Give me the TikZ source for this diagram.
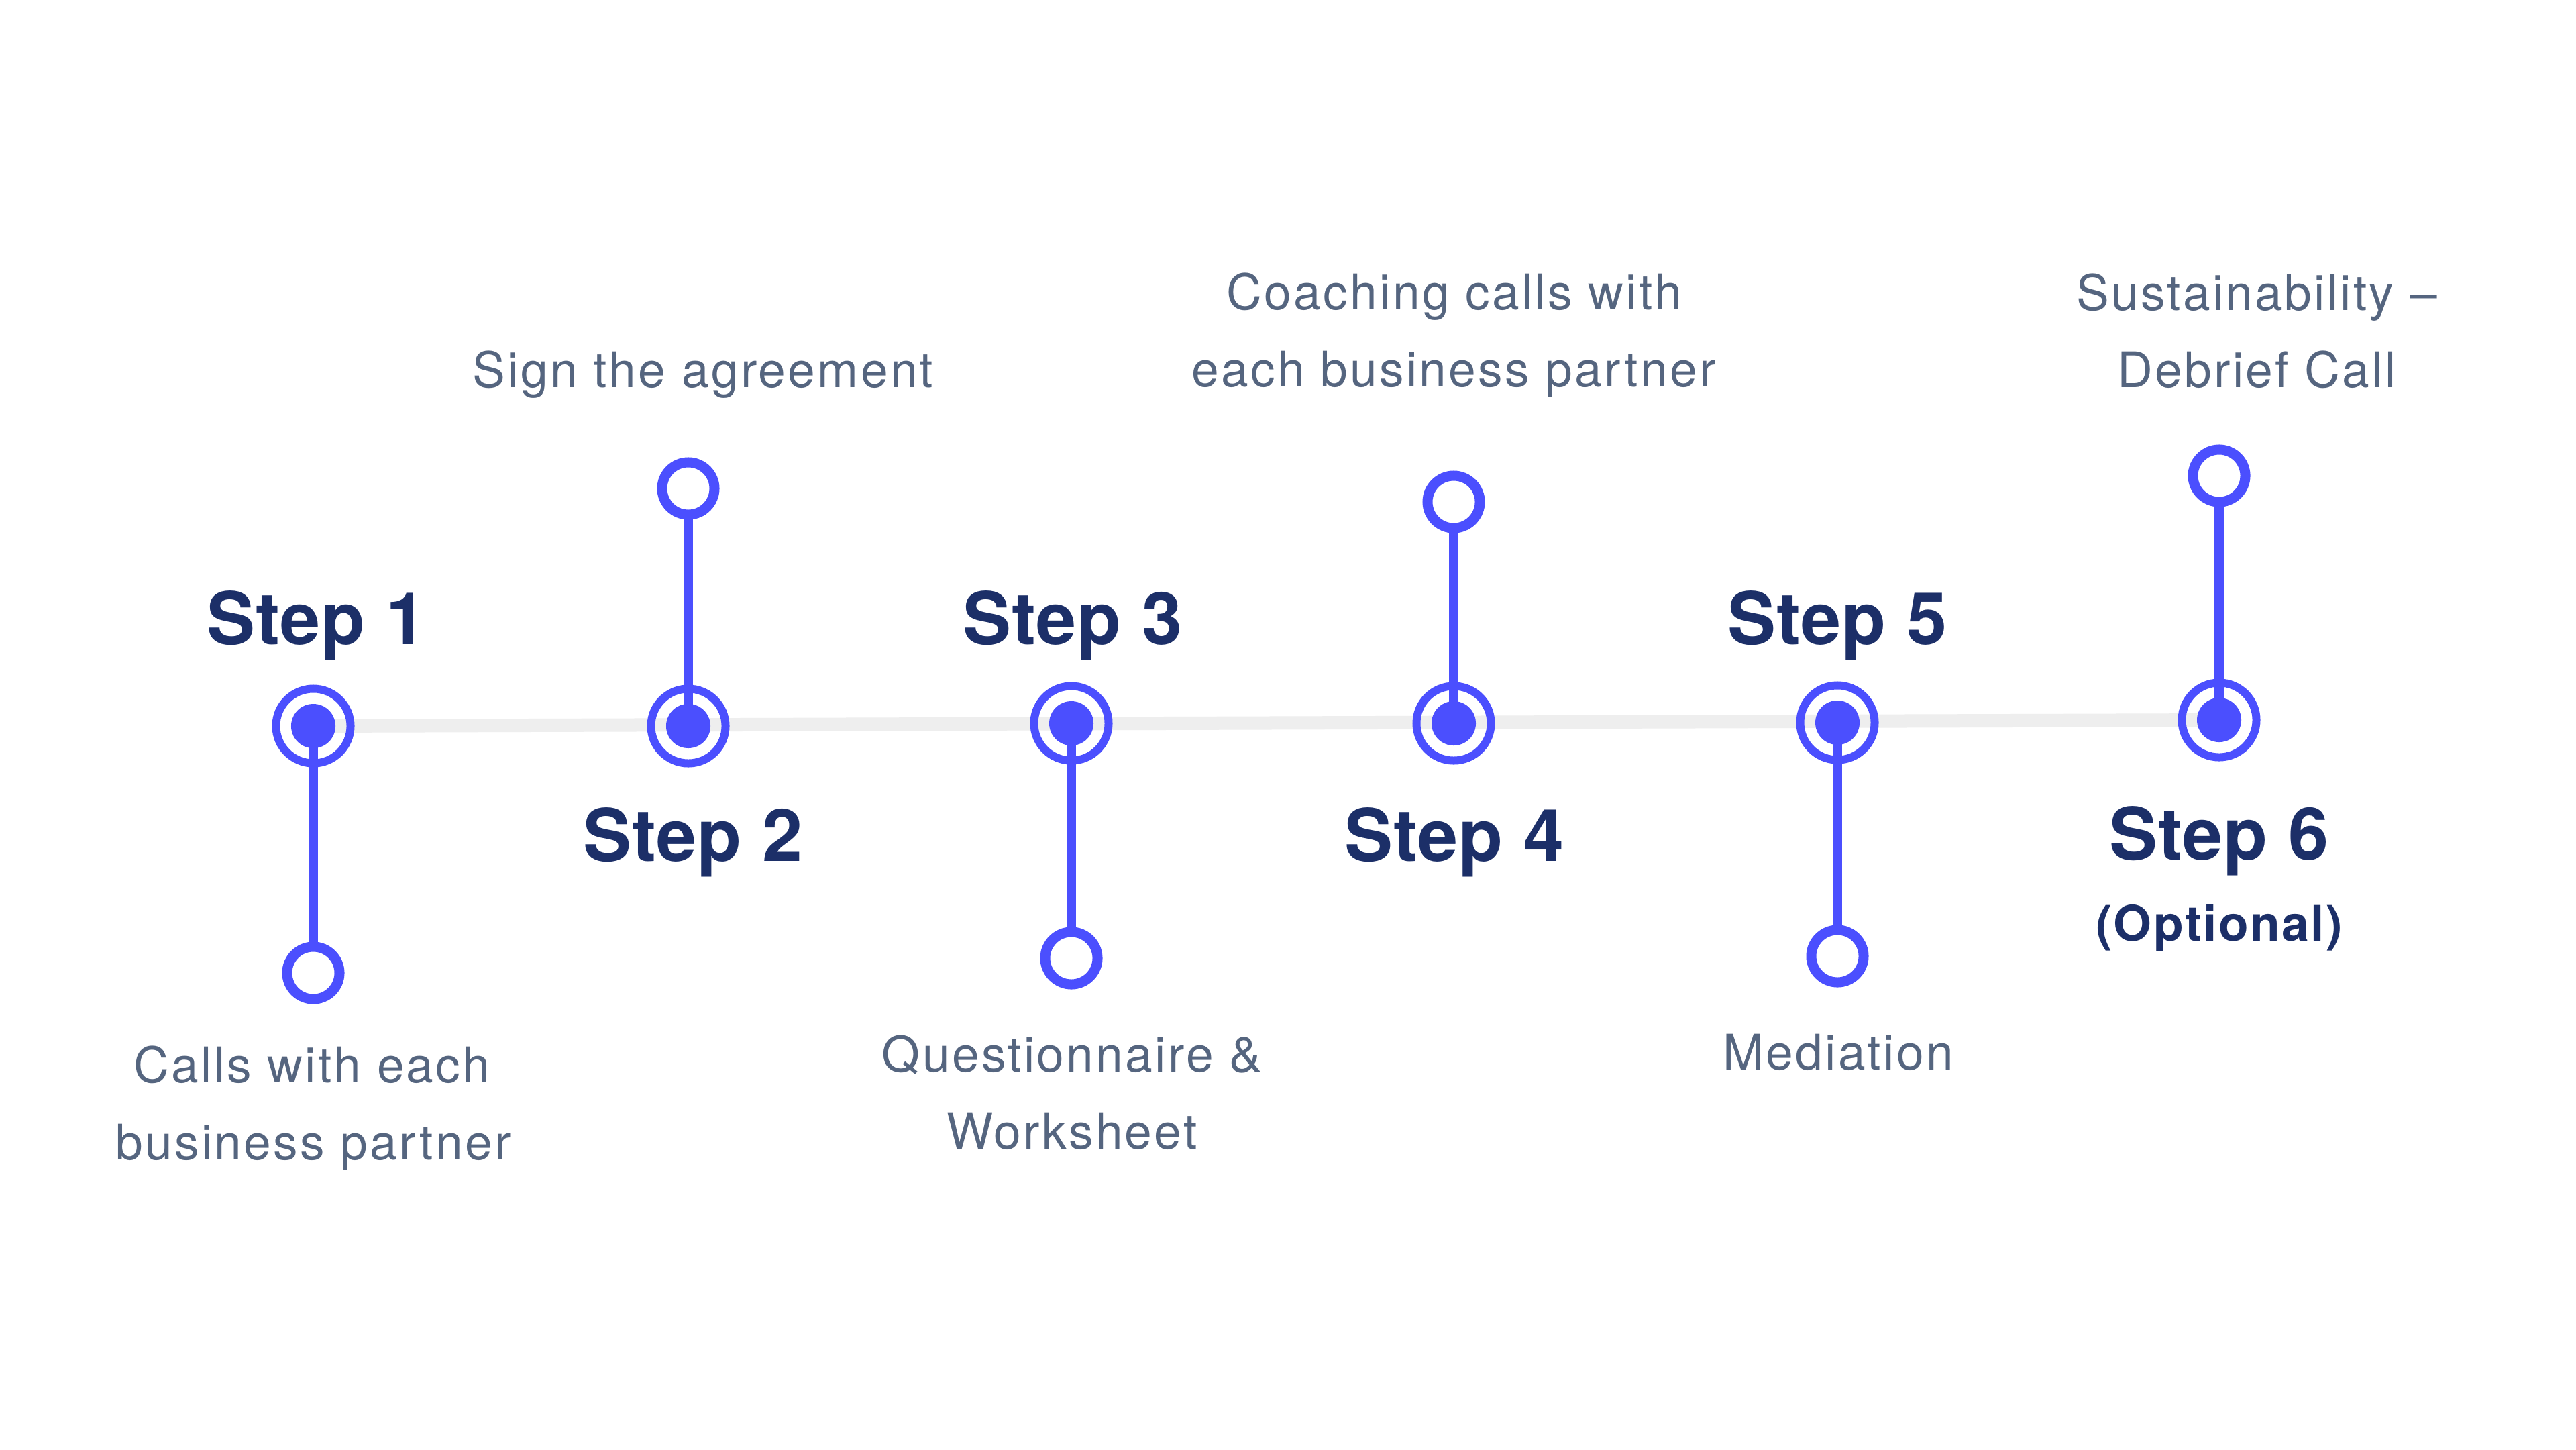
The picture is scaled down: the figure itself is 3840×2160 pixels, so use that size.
\documentclass[tikz,border=0pt]{standalone}
\usepackage{fontspec}
\setmainfont{TeX Gyre Heros}
\newfontfamily\descfont[LetterSpace=4.5]{TeX Gyre Heros}
\newfontfamily\headfont[LetterSpace=1.0]{TeX Gyre Heros}
\newfontfamily\optfont[LetterSpace=3.5]{TeX Gyre Heros}
\definecolor{navy}{HTML}{1C2F68}
\definecolor{accent}{HTML}{4B4FFE}
\definecolor{slate}{HTML}{55657F}
\definecolor{track}{HTML}{EEEEEE}
\tikzset{
  ring/.style={circle, draw=accent, line width=3.41pt, minimum size=1.11cm, inner sep=0pt},
  dotnode/.style={circle, fill=accent, minimum size=0.66cm, inner sep=0pt},
  endring/.style={circle, draw=accent, fill=white, line width=4.27pt, minimum size=0.78cm, inner sep=0pt},
  conn/.style={draw=accent, line width=3.98pt},
  trackline/.style={draw=track, line width=5.69pt},
  steplabel/.style={anchor=base, text=navy, inner sep=0pt, font=\headfont\bfseries\fontsize{30.7}{36}\selectfont},
  optlabel/.style={anchor=base, text=navy, inner sep=0pt, font=\optfont\bfseries\fontsize{20.8}{25}\selectfont},
  desc/.style={anchor=base, text=slate, inner sep=0pt, font=\descfont\fontsize{20.8}{25}\selectfont}
}
\begin{document}
\begin{tikzpicture}[x=0.01cm, y=-0.01cm]
\fill[white] (0,0) rectangle (3840,2160);
\useasboundingbox (0,0) rectangle (3840,2160);
% centres
\coordinate (p1) at (467,1082);
\coordinate (p2) at (1026,1082);
\coordinate (p3) at (1597,1078);
\coordinate (p4) at (2167,1078);
\coordinate (p5) at (2739,1077);
\coordinate (p6) at (3308,1073);
\coordinate (q1) at (467,1450);
\coordinate (q2) at (1026,728);
\coordinate (q3) at (1597,1428);
\coordinate (q4) at (2167,748);
\coordinate (q5) at (2739,1425);
\coordinate (q6) at (3308,709);
% track
\draw[trackline] (p1) -- (p6);
% connectors
\foreach \i in {1,...,6} { \draw[conn] (p\i) -- (q\i); }
% markers
\foreach \i in {1,...,6} {
  \node[ring] (m\i) at (p\i) {};
  \node[dotnode] (c\i) at (p\i) {};
  \node[endring] (t\i) at (q\i) {};
}
% step labels
\node[steplabel] (l1) at (472,960) {Step 1};
\node[steplabel] (l2) at (1033,1283) {Step 2};
\node[steplabel] (l3) at (1599,960) {Step 3};
\node[steplabel] (l4) at (2168,1283) {Step 4};
\node[steplabel] (l5) at (2739,960) {Step 5};
\node[steplabel] (l6) at (3308,1281) {Step 6};
\node[optlabel] (l6o) at (3308,1402) {(Optional)};
% descriptions
\node[desc] (d1a) at (465,1613) {Calls with each};
\node[desc] (d1b) at (467,1728) {business partner};
\node[desc] (d2a) at (1048,577) {Sign the agreement};
\node[desc] (d3a) at (1598,1597) {Questionnaire \&};
\node[desc] (d3b) at (1598,1712) {Worksheet};
\node[desc] (d4a) at (2168,461) {Coaching calls with};
\node[desc] (d4b) at (2167,576) {each business partner};
\node[desc] (d5a) at (2740,1594) {Mediation};
\node[desc] (d6a) at (3364,462) {Sustainability –};
\node[desc] (d6b) at (3364,577) {Debrief Call};
\end{tikzpicture}
\end{document}
